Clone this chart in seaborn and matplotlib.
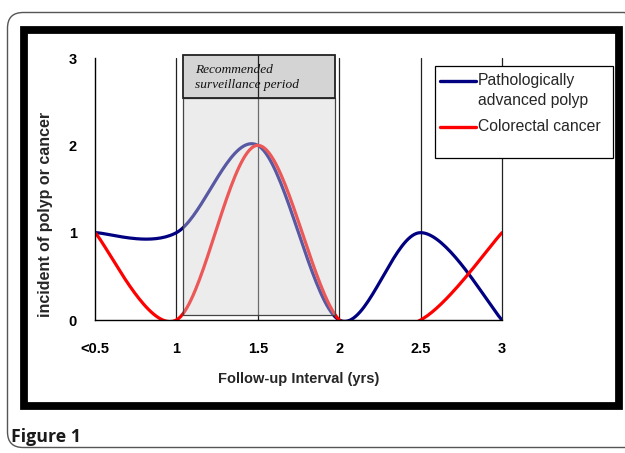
import numpy as np
import pandas as pd
import matplotlib
matplotlib.use("Agg")
import matplotlib.pyplot as plt
import seaborn as sns
from matplotlib.patches import Rectangle, FancyBboxPatch
from matplotlib.lines import Line2D

# ---- data ----
x_vals = [0.5, 1.0, 1.5, 2.0, 2.5, 3.0]
x_labels = ["<0.5", "1", "1.5", "2", "2.5", "3"]
polyp = [1, 1, 2, 0, 1, 0]
cancer = [1, 0, 2, 0, 0, 1]
series_names = ["Pathologically\nadvanced polyp", "Colorectal cancer"]
series_colors = ["#000080", "#ff0000"]
y_ticks = [0, 1, 2, 3]

W, H = 625, 453


def smooth(xs, ys, n=40):
    """Excel-style smoothed line (Catmull-Rom bezier) through the points."""
    P = np.column_stack([xs, ys]).astype(float)
    Pe = np.vstack([P[0], P, P[-1]])
    out = []
    t = np.linspace(0, 1, n)[:, None]
    for i in range(len(P) - 1):
        p0, p1, p2, p3 = Pe[i], Pe[i + 1], Pe[i + 2], Pe[i + 3]
        c1 = p1 + (p2 - p0) / 6
        c2 = p2 - (p3 - p1) / 6
        seg = ((1 - t) ** 3) * p1 + 3 * ((1 - t) ** 2) * t * c1 + 3 * (1 - t) * t ** 2 * c2 + t ** 3 * p2
        out.append(seg if i == 0 else seg[1:])
    return np.vstack(out)


sns.set_style("white")
plt.rcParams["font.family"] = ["Liberation Sans", "DejaVu Sans"]

fig = plt.figure(figsize=(W / 100, H / 100), dpi=100)
fig.patch.set_facecolor("white")


def fx(px):
    return px / W


def fy(py):
    return 1 - py / H


# outer rounded figure box
fig.add_artist(FancyBboxPatch((fx(7.5), fy(447.5)), fx(640 - 7.5), fy(12.5) - fy(447.5),
                              boxstyle="round,pad=0,rounding_size=0.025",
                              transform=fig.transFigure, fill=False, edgecolor="#555555",
                              linewidth=1.0, mutation_aspect=W / H))
# thick black inner frame
fig.add_artist(Rectangle((fx(24), fy(406)), fx(619) - fx(24), fy(30) - fy(406),
                         transform=fig.transFigure, fill=False, edgecolor="black",
                         linewidth=5.6, zorder=5))

fig.text(fx(11), fy(437), "Figure 1", fontsize=12.8, fontweight="bold",
         family=["Open Sans", "DejaVu Sans"], color="#1a1a1a", va="center", ha="left")

ax = fig.add_axes([fx(95), fy(320), fx(502) - fx(95), fy(58) - fy(320)])
ax.set_facecolor("none")

rows = []
for name, vals in zip(series_names, [polyp, cancer]):
    pts = smooth(x_vals, vals)
    for k, (xx, yy) in enumerate(pts):
        rows.append({"series": name, "x": xx, "y": yy})
df = pd.DataFrame(rows)

sns.lineplot(data=df, x="x", y="y", hue="series", hue_order=series_names,
             palette=series_colors, sort=False, estimator=None,
             linewidth=2.3, ax=ax, legend=False, zorder=3)

ax.set_xlim(0.5, 3)
ax.set_ylim(0, 3)

# vertical gridlines
for xv in x_vals[1:]:
    ax.plot([xv, xv], [0, 3], color="#222222", linewidth=0.9, zorder=1, clip_on=False)

# surveillance box (drawn over lines, translucent)
bx0, bx1 = 1.04, 1.975
ax.add_patch(Rectangle((bx0, 0.06), bx1 - bx0, 2.54 - 0.06, facecolor="#d4d4d4",
                       alpha=0.42, edgecolor="none", zorder=4, clip_on=False))
ax.add_patch(Rectangle((bx0, 0.06), bx1 - bx0, 2.54 - 0.06, facecolor="none",
                       edgecolor="#444444", linewidth=0.9, zorder=4, clip_on=False))
ax.add_patch(Rectangle((bx0, 2.54), bx1 - bx0, 3.03 - 2.54, facecolor="#d4d4d4",
                       edgecolor="#222222", linewidth=1.3, zorder=4.5, clip_on=False))
ax.plot([1.5, 1.5], [2.54, 3.03], color="#222222", linewidth=0.9, zorder=4.6, clip_on=False)
ax.text(1.115, 2.93, "Recommended\nsurveillance period", fontsize=9.6, style="italic",
        family=["Liberation Serif", "DejaVu Serif"], va="top", ha="left",
        linespacing=1.3, zorder=5, color="#111111")

# axes styling
for s in ["top", "right"]:
    ax.spines[s].set_visible(False)
for s in ["left", "bottom"]:
    ax.spines[s].set_color("black")
    ax.spines[s].set_linewidth(1.0)
    ax.spines[s].set_zorder(6)

ax.set_xticks(x_vals)
ax.set_xticklabels(x_labels)
ax.set_yticks(y_ticks)
ax.set_yticklabels([str(v) for v in y_ticks])
ax.tick_params(axis="x", direction="out", length=5, width=1, pad=11, labelsize=10.5, colors="black")
ax.tick_params(axis="y", direction="inout", length=10, width=1, pad=8, labelsize=10.5, colors="black")
for lab in ax.get_xticklabels() + ax.get_yticklabels():
    lab.set_fontweight("bold")
ax.set_xlabel("Follow-up Interval (yrs)", fontsize=10.5, fontweight="bold", labelpad=11)
ax.set_ylabel("incident of polyp or cancer", fontsize=11.5, fontweight="bold")
ax.yaxis.set_label_coords(fx(53 - 95) / (fx(502) - fx(95)), (fy(214) - fy(320)) / (fy(58) - fy(320)))
ax.grid(False)

# legend (drawn as a box with handles and labels, figure coordinates)
fig.add_artist(Rectangle((fx(435), fy(158)), fx(613) - fx(435), fy(66) - fy(158),
                         transform=fig.transFigure, facecolor="white", edgecolor="black",
                         linewidth=0.9, zorder=7))
leg_y = [81, 127]
for name, col, yy in zip(series_names, series_colors, leg_y):
    fig.add_artist(Line2D([fx(440), fx(476)], [fy(yy), fy(yy)], color=col, linewidth=2.4,
                          transform=fig.transFigure, zorder=8))
    fig.text(fx(478), fy(yy - 8), name, fontsize=11.3, va="top", ha="left",
             linespacing=1.4, zorder=9)

fig.savefig("out.png", dpi=100, facecolor="white")
